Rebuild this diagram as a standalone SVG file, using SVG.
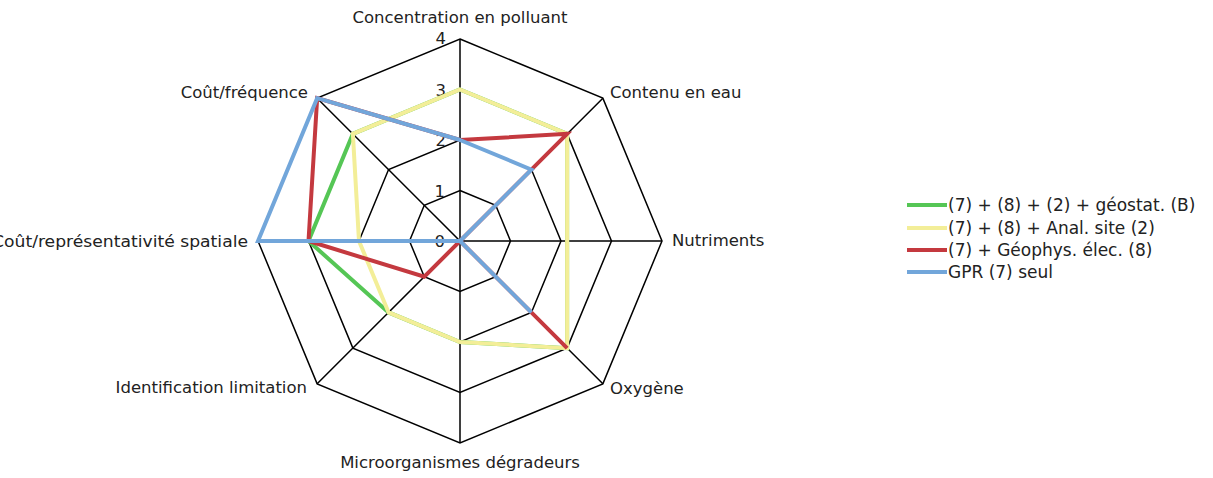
<svg xmlns="http://www.w3.org/2000/svg" width="1213" height="478" viewBox="0 0 1213 478">
<style>
text{font-family:"DejaVu Sans",Verdana,sans-serif;font-size:16.5px;fill:#222}
.grid{fill:none;stroke:#000;stroke-width:1.5;stroke-linejoin:miter}
.ser{fill:none;stroke-width:4;stroke-linejoin:miter}
.g{stroke:#55c655}.y{stroke:#f3ee98}.r{stroke:#c4393f}.b{stroke:#72a6da}
.lg{font-size:17px}
.tick{text-anchor:end}
</style>
<rect width="1213" height="478" fill="#fff"/>
<g id="grid">
<polygon class="grid" points="460,190.5 495.71,205.29 510.5,241 495.71,276.71 460,291.5 424.29,276.71 409.5,241 424.29,205.29"/>
<polygon class="grid" points="460,140 531.42,169.58 561,241 531.42,312.42 460,342 388.58,312.42 359,241 388.58,169.58"/>
<polygon class="grid" points="460,89.5 567.13,133.87 611.5,241 567.13,348.13 460,392.5 352.87,348.13 308.5,241 352.87,133.87"/>
<polygon class="grid" points="460,39 602.84,98.16 662,241 602.84,383.84 460,443 317.16,383.84 258,241 317.16,98.16"/>
<path class="grid" d="M460,241L460,39M460,241L602.84,98.16M460,241L662,241M460,241L602.84,383.84M460,241L460,443M460,241L317.16,383.84M460,241L258,241M460,241L317.16,98.16"/>
</g>
<g id="ticks">
<text class="tick" x="446" y="44">4</text>
<text class="tick" x="446" y="96">3</text>
<text class="tick" x="446" y="146">2</text>
<text class="tick" x="445" y="197">1</text>
<text class="tick" x="445" y="247">0</text>
</g>
<g id="series">
<polygon id="s-green" class="ser g" points="460,89.5 567.13,133.87 567.13,241 567.13,348.13 460,342 388.58,312.42 308.5,241 352.87,133.87"/>
<polygon id="s-yellow" class="ser y" points="460,89.5 567.13,133.87 567.13,241 567.13,348.13 460,342 388.58,312.42 359,241 352.87,133.87"/>
<polygon id="s-red" class="ser r" points="460,140 567.13,133.87 460,241 567.13,348.13 460,241 424.29,276.71 308.5,241 317.16,98.16"/>
<polygon id="s-blue" class="ser b" points="460,140 531.42,169.58 460,241 531.42,312.42 460,241 460,241 258,241 317.16,98.16"/>
</g>
<g id="axis-labels">
<text x="460" y="23" text-anchor="middle">Concentration en polluant</text>
<text x="610" y="98">Contenu en eau</text>
<text x="672" y="246">Nutriments</text>
<text x="610" y="394">Oxygène</text>
<text x="460" y="468" text-anchor="middle">Microorganismes dégradeurs</text>
<text x="307" y="393" text-anchor="end">Identification limitation</text>
<text x="-8" y="247" textLength="256" lengthAdjust="spacingAndGlyphs">Coût/représentativité spatiale</text>
<text x="308" y="98" text-anchor="end">Coût/fréquence</text>
</g>
<g id="legend">
<line class="ser g" x1="907" y1="205" x2="947" y2="205" stroke-width="3"/>
<text class="lg" x="948" y="211">(7) + (8) + (2) + géostat. (B)</text>
<line class="ser y" x1="907" y1="228" x2="947" y2="228" stroke-width="3"/>
<text class="lg" x="948" y="234">(7) + (8) + Anal. site (2)</text>
<line class="ser r" x1="907" y1="250" x2="947" y2="250" stroke-width="3"/>
<text class="lg" x="948" y="256">(7) + Géophys. élec. (8)</text>
<line class="ser b" x1="907" y1="272" x2="947" y2="272" stroke-width="3"/>
<text class="lg" x="948" y="278">GPR (7) seul</text>
</g>
</svg>
